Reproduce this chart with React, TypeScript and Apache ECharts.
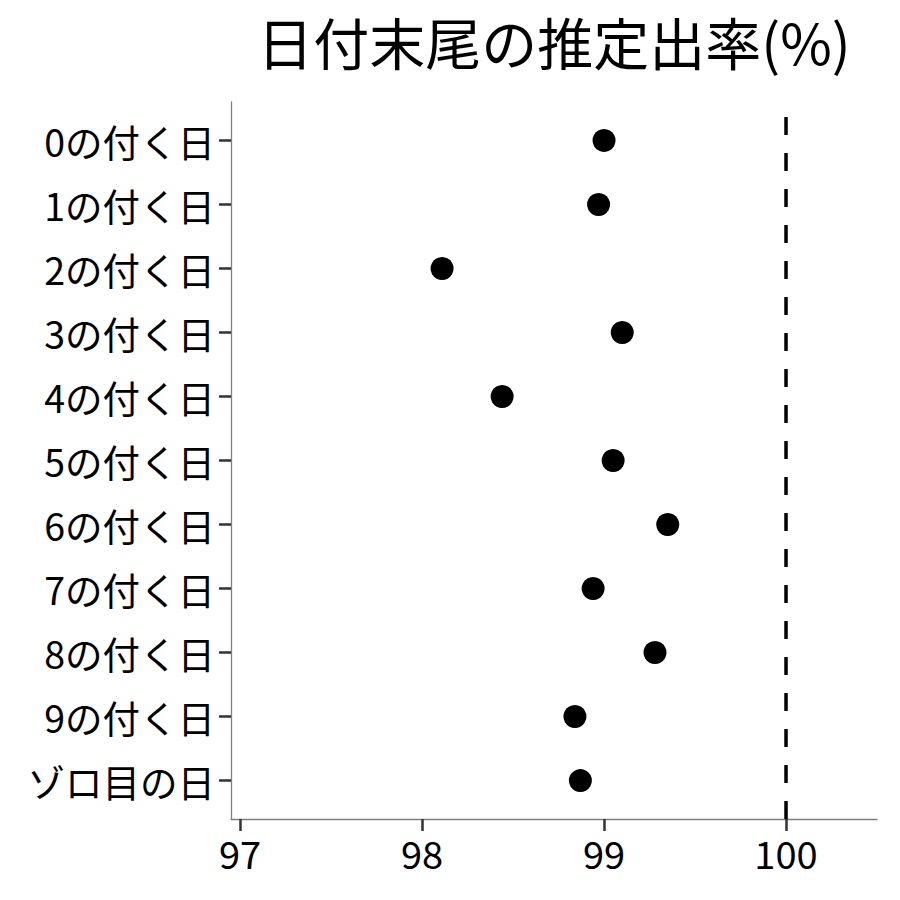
import { useEffect, useRef } from 'react'
import * as echarts from 'echarts'

// ─── データ ───
const TITLE = '日付末尾の推定出率(%)'

const categories = [
  '0の付く日', '1の付く日', '2の付く日', '3の付く日', '4の付く日', '5の付く日',
  '6の付く日', '7の付く日', '8の付く日', '9の付く日', 'ゾロ目の日',
]

const rates = [99.0, 98.97, 98.11, 99.1, 98.44, 99.05, 99.35, 98.94, 99.28, 98.84, 98.87]

const xTicks = [97, 98, 99, 100]
const REF_VALUE = 100

// 軸の範囲
const X_MIN = 96.95
const X_MAX = 100.5
const Y_MIN = -0.6
const Y_MAX = categories.length - 1 + 0.6

const FONT = '"Noto Sans CJK JP", "Noto Sans", sans-serif'

export default function App() {
  const ref = useRef<HTMLDivElement>(null)

  useEffect(() => {
    if (!ref.current) return
    const chart = echarts.init(ref.current, undefined, { renderer: 'svg' })

    const axisLineStyle = { color: '#7f7f7f', width: 1.3 }
    const tickStyle = { color: '#333', width: 2.5 }

    chart.setOption({
      animation: false,
      backgroundColor: '#fff',
      textStyle: { fontFamily: FONT },
      title: {
        text: TITLE,
        left: 549,
        top: 7,
        textAlign: 'center',
        textStyle: { fontFamily: FONT, fontSize: 56, fontWeight: 'normal', color: '#000' },
      },
      grid: { left: 231, right: 23, top: 102, bottom: 81, containLabel: false, outerBoundsMode: 'none' },
      xAxis: {
        type: 'value',
        min: X_MIN,
        max: X_MAX,
        splitLine: { show: false },
        axisLine: { show: true, onZero: false, lineStyle: axisLineStyle },
        axisTick: { show: true, length: 12, lineStyle: tickStyle, customValues: xTicks },
        axisLabel: {
          customValues: xTicks,
          margin: 14,
          fontSize: 38,
          color: '#000',
          fontFamily: FONT,
          showMinLabel: true,
          showMaxLabel: true,
        },
      },
      yAxis: {
        type: 'value',
        inverse: true,
        min: Y_MIN,
        max: Y_MAX,
        splitLine: { show: false },
        axisLine: { show: true, onZero: false, lineStyle: axisLineStyle },
        axisTick: { show: true, length: 12, lineStyle: tickStyle, customValues: categories.map((_, i) => i) },
        axisLabel: {
          customValues: categories.map((_, i) => i),
          formatter: (v: number) => categories[Math.round(v)] ?? '',
          margin: 16,
          fontSize: 37.5,
          color: '#000',
          fontFamily: FONT,
        },
      },
      series: [
        {
          type: 'line',
          data: [[REF_VALUE, Y_MAX], [REF_VALUE, Y_MIN]],
          symbol: 'none',
          lineStyle: { color: '#000', width: 3.5, type: [18, 18] },
          silent: true,
          z: 1,
        },
        {
          type: 'scatter',
          data: rates.map((v, i) => [v, i]),
          symbol: 'circle',
          symbolSize: 23,
          itemStyle: { color: '#000', opacity: 1 },
          z: 2,
        },
      ],
    })

    return () => chart.dispose()
  }, [])

  return (
    <div
      ref={ref}
      style={{ position: 'fixed', left: 0, top: 0, width: 900, height: 900, background: '#fff' }}
    />
  )
}
